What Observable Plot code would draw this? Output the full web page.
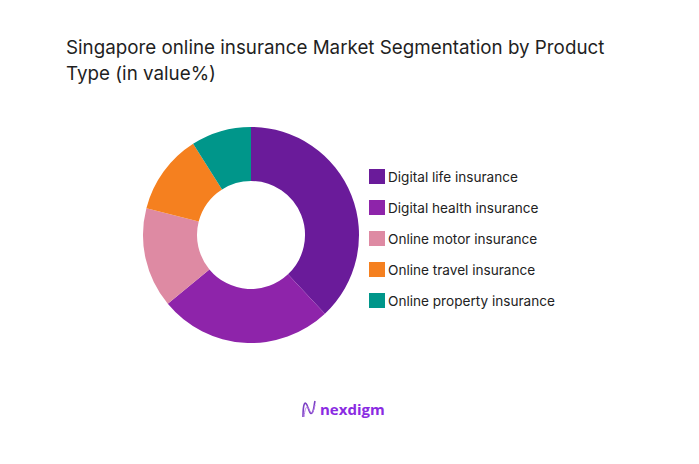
<!DOCTYPE html>
<html>
<head>
<meta charset="utf-8">
<script src="https://cdn.jsdelivr.net/npm/d3@7"></script>
<script src="https://cdn.jsdelivr.net/npm/@observablehq/plot@0.6"></script>
<style>
  html, body { margin: 0; padding: 0; background: #fff; }
  #wrap { position: relative; width: 699px; height: 464px; overflow: hidden; font-family: Inter, "Open Sans", sans-serif; }
  #title { position: absolute; left: 66px; top: 35px; font-size: 18.8px; line-height: 26px; color: #1f1f1f; font-weight: 400; width: 620px; }
  #chart { position: absolute; left: 0; top: 0; }
  #legend { position: absolute; left: 369px; top: 161px; }
  .row { display: flex; align-items: center; height: 31px; font-size: 13.6px; color: #222; }
  .sw { width: 16px; height: 15px; margin-right: 3px; }
  #logo { position: absolute; left: 301px; top: 399px; display: flex; align-items: center; font-family: "Open Sans", sans-serif; font-weight: 700; font-size: 15px; color: #8a2be2; }
</style>
</head>
<body>
<div id="wrap">
  <div id="chart"></div>
  <div id="title">Singapore online insurance Market Segmentation by Product<br>Type (in value%)</div>
  <div id="legend"></div>
  <div id="logo"><svg width="16" height="20" viewBox="0 0 16 20"><path d="M2 18 C2 4, 4 2, 6 6 C8 11, 9 16, 11 14 C13 12, 13 6, 14 2" fill="none" stroke="#7b3fc4" stroke-width="1.6"/><path d="M3 18 C4 8, 6 6, 8 10 C10 15, 12 16, 14 6" fill="none" stroke="#b57be8" stroke-width="1"/></svg><span style="margin-left:3px">nexdigm</span></div>
</div>
<script>
const categories = ["Digital life insurance", "Digital health insurance", "Online motor insurance", "Online travel insurance", "Online property insurance"];
const shares = [38, 26, 15, 12, 9];
const colors = ["#6a1b9a", "#8e24aa", "#de8aa3", "#f5801f", "#00968a"];

const data = categories.map((c, i) => ({category: c, share: shares[i]}));

function donut(index, scales, values, dimensions, context) {
  const cx = scales.x(0), cy = scales.y(0);
  const R = scales.x(1) - cx;
  const arcs = d3.pie().sort(null).value(d => d.share)(data);
  const arc = d3.arc().innerRadius(R * 0.5).outerRadius(R);
  const colorOf = typeof scales.color === "function" ? scales.color : (c) => colors[categories.indexOf(c)];
  const g = d3.create("svg:g").attr("transform", `translate(${cx},${cy})`);
  g.selectAll("path").data(arcs).join("path")
    .attr("d", arc)
    .attr("fill", d => colorOf(d.data.category));
  return g.node();
}

const chart = Plot.plot({
  width: 699,
  height: 464,
  margin: 0,
  x: {type: "linear", domain: [-1, 1], range: [143, 359], axis: null},
  y: {type: "linear", domain: [-1, 1], range: [343, 127], axis: null},
  color: {domain: categories, range: colors},
  marks: [
    Plot.dot(data, {x: () => 0, y: () => 0, fill: "category", r: 0}),
    donut
  ]
});
document.getElementById("chart").appendChild(chart);

const legend = d3.select("#legend");
const rows = legend.selectAll(".row").data(categories).join("div").attr("class", "row");
rows.append("div").attr("class", "sw").style("background", (d, i) => colors[i]);
rows.append("span").text(d => d);
</script>
</body>
</html>
